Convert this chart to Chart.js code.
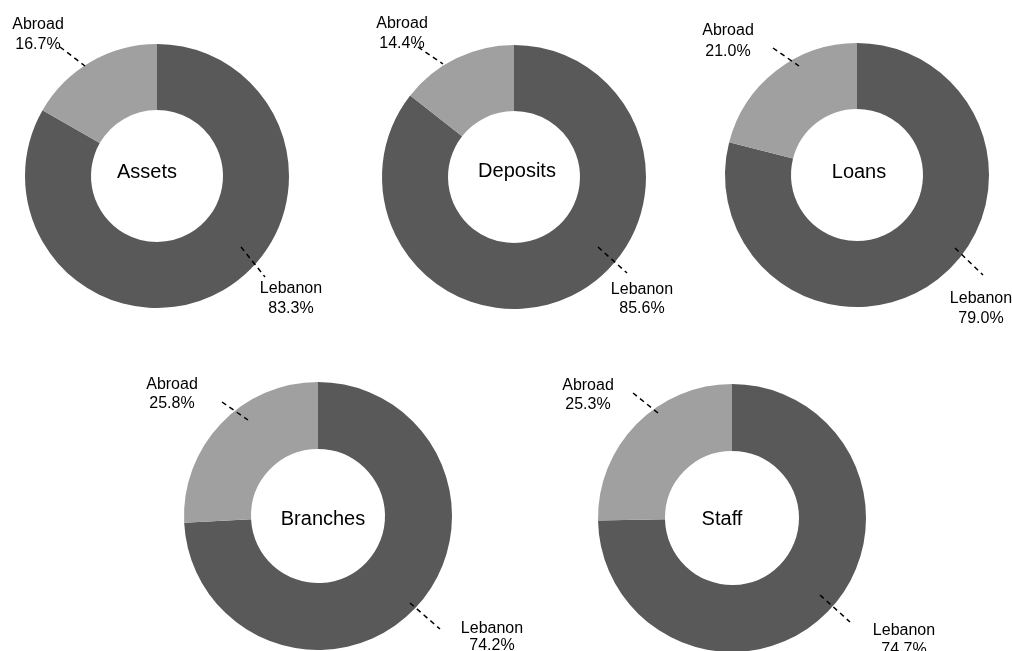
<!DOCTYPE html>
<html>
<head>
<meta charset="utf-8">
<script src="https://cdn.jsdelivr.net/npm/chart.js@4.4.0/dist/chart.umd.min.js"></script>
<style>
  html, body { margin: 0; padding: 0; background: #fff; }
  #page { position: relative; width: 1012px; height: 651px; overflow: hidden; }
  #page canvas { position: absolute; }
</style>
</head>
<body>
<div id="page"></div>
<script>
// shares by location, one doughnut per indicator
var categories = ["Lebanon", "Abroad"];
var titles = ["Assets", "Deposits", "Loans", "Branches", "Staff"];
var lebanon = [83.3, 85.6, 79.0, 74.2, 74.7];
var abroad = [16.7, 14.4, 21.0, 25.8, 25.3];

var colors = ["#595959", "#a0a0a0"];
var fontFamily = "'Liberation Sans', Arial, sans-serif";

// centre and outer radius of each doughnut on the page, titleDx/titleDy nudge the centre text
var layout = [
    { cx: 157, cy: 176, r: 132, titleDx: -10, titleDy: -5 },
    { cx: 514, cy: 177, r: 132, titleDx: 3, titleDy: -7 },
    { cx: 857, cy: 175, r: 132, titleDx: 2, titleDy: -4 },
    { cx: 318, cy: 516, r: 134, titleDx: 5, titleDy: 2 },
    { cx: 732, cy: 518, r: 134, titleDx: -10, titleDy: 0 }
];

// label spots relative to the doughnut centre
// text: [dx, dy of name, dy of value]  line: [x1, y1, x2, y2] of the dashed leader
var labelSpots = [
    { Abroad: { text: [-119, -153, -133], line: [-97, -129, -72, -110] },
      Lebanon: { text: [134, 111, 131], line: [84, 71, 108, 101] } },
    { Abroad: { text: [-112, -155, -135], line: [-96, -130, -71, -113] },
      Lebanon: { text: [128, 111, 130], line: [84, 70, 113, 96] } },
    { Abroad: { text: [-129, -146, -125], line: [-84, -127, -58, -109] },
      Lebanon: { text: [124, 122, 142], line: [98, 73, 126, 100] } },
    { Abroad: { text: [-146, -133, -114], line: [-96, -114, -70, -96] },
      Lebanon: { text: [174, 111, 128], line: [92, 87, 122, 113] } },
    { Abroad: { text: [-144, -134, -115], line: [-99, -125, -74, -105] },
      Lebanon: { text: [172, 111, 130], line: [88, 77, 118, 104] } }
];

var pad = 82;

// draws the centre title, the slice labels and their dashed leaders
var sliceLabels = {
    id: "sliceLabels",
    afterDraw: function (chart, args, opts) {
        var i = opts.index;
        var arc = chart.getDatasetMeta(0).data[0];
        var cx = arc.x, cy = arc.y;
        var ctx = chart.ctx;
        var values = chart.data.datasets[0].data;
        ctx.save();

        ctx.fillStyle = "#000";
        ctx.textAlign = "center";
        ctx.textBaseline = "alphabetic";
        ctx.font = "20px " + fontFamily;
        ctx.fillText(titles[i], cx + layout[i].titleDx, cy + layout[i].titleDy + 7);

        ctx.font = "16px " + fontFamily;
        chart.data.labels.forEach(function (name, k) {
            var spot = labelSpots[i][name];
            var t = spot.text, l = spot.line;
            ctx.fillText(name, cx + t[0], cy + t[1] + 6);
            ctx.fillText(values[k].toFixed(1) + "%", cx + t[0], cy + t[2] + 6);

            ctx.beginPath();
            ctx.setLineDash([5, 4]);
            ctx.lineWidth = 1.5;
            ctx.strokeStyle = "#000";
            ctx.moveTo(cx + l[0], cy + l[1]);
            ctx.lineTo(cx + l[2], cy + l[3]);
            ctx.stroke();
        });
        ctx.restore();
    }
};

var page = document.getElementById("page");

for (var i = 0; i < titles.length; i++) {
    var box = layout[i];
    var size = 2 * (box.r + pad);
    var canvas = document.createElement("canvas");
    canvas.width = size;
    canvas.height = size;
    canvas.style.left = (box.cx - box.r - pad) + "px";
    canvas.style.top = (box.cy - box.r - pad) + "px";
    page.appendChild(canvas);

    new Chart(canvas, {
        type: "doughnut",
        data: {
            labels: categories,
            datasets: [{
                data: [lebanon[i], abroad[i]],
                backgroundColor: colors,
                borderWidth: 0,
                hoverOffset: 0
            }]
        },
        options: {
            responsive: false,
            animation: false,
            cutout: "50%",
            layout: { padding: pad },
            events: [],
            plugins: {
                legend: { display: false },
                tooltip: { enabled: false },
                sliceLabels: { index: i }
            }
        },
        plugins: [sliceLabels]
    });
}
</script>
</body>
</html>
